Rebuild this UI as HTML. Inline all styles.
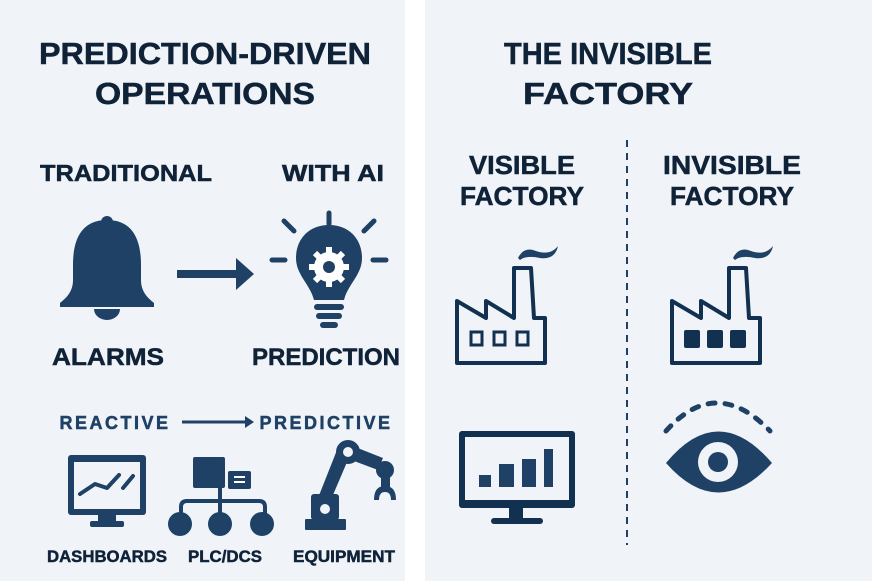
<!DOCTYPE html>
<html><head><meta charset="utf-8"><style>
body{margin:0;width:872px;height:581px;overflow:hidden;background:#fff;}
svg{display:block}
text{font-family:"Liberation Sans",sans-serif;font-weight:bold;fill:#0f2238;text-anchor:middle;stroke:#0f2238;stroke-width:0.5}
</style></head><body>
<svg width="872" height="581" viewBox="0 0 872 581">
<rect x="0" y="0" width="405" height="581" fill="#f0f3f7"/>
<rect x="425" y="0" width="447" height="581" fill="#f0f3f7"/>
<text x="205" y="64" font-size="31" textLength="332" lengthAdjust="spacingAndGlyphs">PREDICTION-DRIVEN</text>
<text x="205" y="104" font-size="31" textLength="220" lengthAdjust="spacingAndGlyphs">OPERATIONS</text>
<text x="126" y="181" font-size="23" textLength="172" lengthAdjust="spacingAndGlyphs">TRADITIONAL</text>
<text x="333" y="181" font-size="23" textLength="102" lengthAdjust="spacingAndGlyphs">WITH AI</text>
<g fill="#1f4166" stroke="none">
<circle cx="107" cy="222" r="6"/>
<path d="M107 220 C78 220 73 245 73 265 L73 280 C73 292 66 298 60 303 L60 307 L154 307 L154 303 C148 298 141 292 141 280 L141 265 C141 245 136 220 107 220Z"/>
<path d="M94 309 A13 11 0 0 0 120 309Z"/>
<rect x="177" y="270" width="60" height="8"/>
<path d="M236 258 L254 274 L236 290Z"/>
<path d="M329 225 C308 225 296 240 296 258 C296 275 310 284 314 300 L344 300 C348 284 362 275 362 258 C362 240 350 225 329 225Z"/>
<rect x="314" y="304" width="30" height="6" rx="3"/>
<rect x="316" y="313" width="26" height="6" rx="3"/>
<rect x="320" y="322" width="18" height="6" rx="3"/>
</g>
<g stroke="#1f4166" stroke-width="5" stroke-linecap="round">
<line x1="329" y1="213" x2="329" y2="224"/>
<line x1="284" y1="221" x2="294" y2="231"/>
<line x1="374" y1="221" x2="364" y2="231"/>
<line x1="272" y1="260" x2="285" y2="260"/>
<line x1="373" y1="260" x2="386" y2="260"/>
</g>
<g fill="#fff">
<circle cx="329" cy="267" r="15"/>
<g stroke="#fff" stroke-width="6">
<line x1="329" y1="247" x2="329" y2="287"/><line x1="309" y1="267" x2="349" y2="267"/>
<line x1="315" y1="253" x2="343" y2="281"/><line x1="343" y1="253" x2="315" y2="281"/>
</g>
<circle cx="329" cy="267" r="6" fill="#1f4166"/>
</g>
<text x="108" y="365" font-size="24" textLength="112" lengthAdjust="spacingAndGlyphs">ALARMS</text>
<text x="326" y="365" font-size="24" textLength="148" lengthAdjust="spacingAndGlyphs">PREDICTION</text>
<text x="115" y="429" font-size="18" style="letter-spacing:2.5px;fill:#1f4166;stroke:#1f4166">REACTIVE</text>
<line x1="182" y1="422" x2="248" y2="422" stroke="#1f4166" stroke-width="3"/>
<path d="M245 416 L254 422 L245 428Z" fill="#1f4166"/>
<text x="326" y="429" font-size="18" style="letter-spacing:2.5px;fill:#1f4166;stroke:#1f4166">PREDICTIVE</text>
<g fill="#1f4166">
<rect x="68" y="455" width="78" height="60" rx="3"/>
<rect x="74" y="462" width="66" height="47" fill="#f0f3f7"/>
<rect x="98" y="515" width="18" height="8"/>
<rect x="90" y="521" width="34" height="6" rx="2"/>
</g>
<polyline points="80,494 95,484 107,488 119,475" fill="none" stroke="#1f4166" stroke-width="4" stroke-linecap="round" stroke-linejoin="round"/>
<line x1="123" y1="488" x2="133" y2="476" stroke="#1f4166" stroke-width="4" stroke-linecap="round"/>
<g fill="#1f4166">
<rect x="193" y="457" width="32" height="31" rx="2"/>
<rect x="228" y="471" width="23" height="18" rx="2"/>
<circle cx="180" cy="524" r="12"/><circle cx="220" cy="524" r="12"/><circle cx="262" cy="524" r="12"/>
</g>
<g stroke="#fff" stroke-width="2"><line x1="234" y1="477" x2="245" y2="477"/><line x1="234" y1="482" x2="245" y2="482"/></g>
<path d="M220 488 V524 M181 520 V507 Q181 501 187 501 H259 Q265 501 265 507 V520" fill="none" stroke="#1f4166" stroke-width="4"/>
<g fill="#1f4166">
<rect x="305" y="519" width="41" height="11" rx="1"/>
<rect x="311" y="494" width="28" height="26" rx="3"/>
<path d="M318 498 L337 450 L350 455 L330 502Z"/>
<circle cx="348" cy="452" r="12"/>
<path d="M350 445 L383 458 L378 470 L346 458Z"/>
<circle cx="385" cy="470" r="9"/>
<rect x="381" y="476" width="9" height="12"/>
<path d="M374 500 Q374 486 385 486 Q396 486 396 500 L391 500 Q391 492 385 492 Q379 492 379 500Z"/>
</g>
<circle cx="325" cy="509" r="5" fill="#f0f3f7"/>
<circle cx="348" cy="452" r="5" fill="#f0f3f7"/>
<text x="107" y="562" font-size="17" textLength="120" lengthAdjust="spacingAndGlyphs">DASHBOARDS</text>
<text x="225" y="562" font-size="17" textLength="74" lengthAdjust="spacingAndGlyphs">PLC/DCS</text>
<text x="344" y="562" font-size="17" textLength="102" lengthAdjust="spacingAndGlyphs">EQUIPMENT</text>

<text x="608" y="64" font-size="31" textLength="208" lengthAdjust="spacingAndGlyphs">THE INVISIBLE</text>
<text x="608" y="104" font-size="31" textLength="170" lengthAdjust="spacingAndGlyphs">FACTORY</text>
<text x="522" y="174" font-size="26" textLength="106" lengthAdjust="spacingAndGlyphs">VISIBLE</text>
<text x="522" y="205" font-size="26" textLength="124" lengthAdjust="spacingAndGlyphs">FACTORY</text>
<text x="732" y="174" font-size="26" textLength="138" lengthAdjust="spacingAndGlyphs">INVISIBLE</text>
<text x="732" y="205" font-size="26" textLength="124" lengthAdjust="spacingAndGlyphs">FACTORY</text>
<line x1="627" y1="140" x2="627" y2="545" stroke="#1f4166" stroke-width="2" stroke-dasharray="7,6"/>
<path d="M457 363 L457 301 L486 318 L486 301 L514 318 L514 268 L531 268 L534 318 L545 318 L545 363Z" fill="none" stroke="#12304f" stroke-width="4" stroke-linejoin="round"/>
<path d="M518 258 Q524 246 536 251 Q550 256 558 246 Q555 260 540 258 Q526 255 520 260Z" fill="#1f4166"/>
<g fill="none" stroke="#12304f" stroke-width="3"><rect x="471" y="332" width="11" height="13"/><rect x="494" y="332" width="11" height="13"/><rect x="517" y="332" width="11" height="13"/></g>
<g transform="translate(215,0)">
<path d="M457 363 L457 301 L486 318 L486 301 L514 318 L514 268 L531 268 L534 318 L545 318 L545 363Z" fill="none" stroke="#12304f" stroke-width="4" stroke-linejoin="round"/>
<path d="M518 258 Q524 246 536 251 Q550 256 558 246 Q555 260 540 258 Q526 255 520 260Z" fill="#1f4166"/>
<g fill="#12304f"><rect x="469" y="330" width="16" height="18" rx="2"/><rect x="492" y="330" width="16" height="18" rx="2"/><rect x="515" y="330" width="16" height="18" rx="2"/></g>
</g>
<g fill="#12304f">
<rect x="459" y="431" width="116" height="77" rx="3"/>
<rect x="465" y="437" width="104" height="63" fill="#f0f3f7"/>
<rect x="509" y="508" width="14" height="14"/>
<rect x="491" y="518" width="52" height="6" rx="3"/>
</g>
<g fill="#1f4166"><rect x="479" y="475" width="12" height="12"/><rect x="499" y="464" width="15" height="23"/><rect x="522" y="459" width="14" height="28"/><rect x="544" y="449" width="9" height="38"/></g>
<path d="M666 463 Q718 400 772 463 Q718 522 666 463Z" fill="#1f4166"/>
<circle cx="718" cy="462" r="20" fill="#f0f3f7"/>
<circle cx="718" cy="462" r="10" fill="#1f4166"/>
<path d="M666 431 Q716 375 770 431" fill="none" stroke="#1f4166" stroke-width="5" stroke-linecap="round" stroke-dasharray="7,10"/>
</svg>
</body></html>
